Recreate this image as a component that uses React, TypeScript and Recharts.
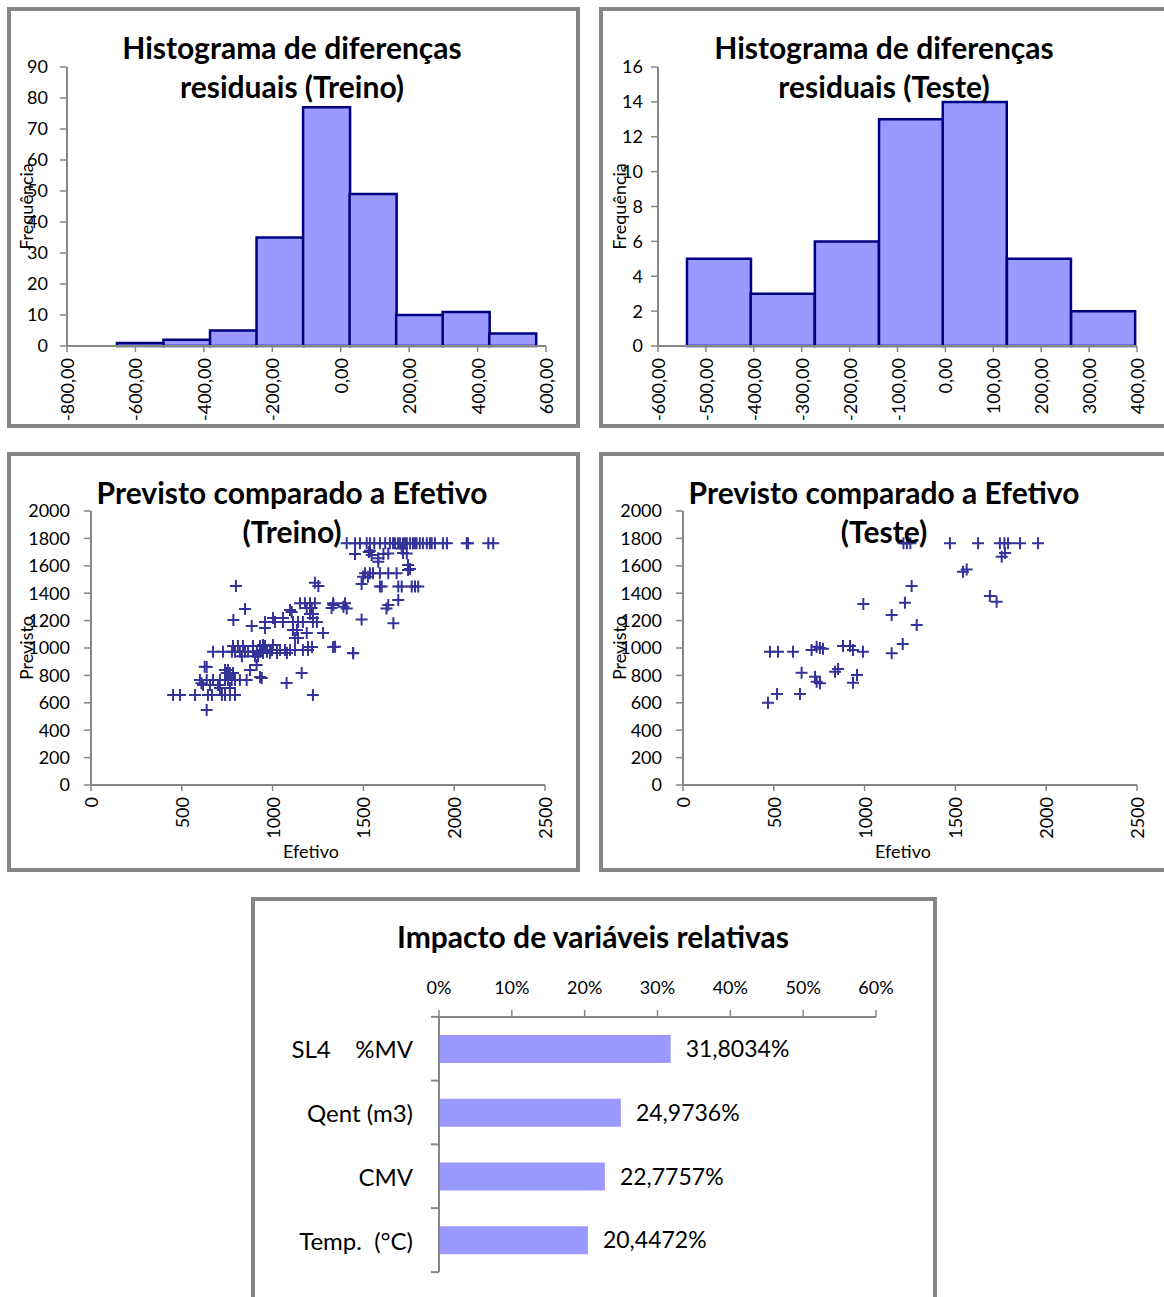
import React from "react";
import { Bar, BarChart, LabelList, Scatter, ScatterChart, XAxis, YAxis } from "recharts";

const FONTE = "Lato, 'Open Sans', sans-serif";
const EIXO = "#868686";
const TINTA = "#000000";
const LILAS = "#9999FF";
const CONTORNO = "#000080";
const MARCA = "#333399";

// Histograma treino: centro de cada classe e frequência
const treinoCentros = [-586, -450, -314, -178, -42, 94, 230, 366, 502];
const treinoFreq = [1, 2, 5, 35, 77, 49, 10, 11, 4];
const treinoTicksX = [-800, -600, -400, -200, 0, 200, 400, 600];
const treinoTicksY = [0, 10, 20, 30, 40, 50, 60, 70, 80, 90];

// Histograma teste
const testeCentros = [-473, -340, -206, -72, 61, 195, 329];
const testeFreq = [5, 3, 6, 13, 14, 5, 2];
const testeTicksX = [-600, -500, -400, -300, -200, -100, 0, 100, 200, 300, 400];
const testeTicksY = [0, 2, 4, 6, 8, 10, 12, 14, 16];

// Previsto x Efetivo: [efetivo, previsto]
const treinoPontos: [number, number][] = [
  [1408, 1765], [1454, 1765], [1481, 1765], [1518, 1765], [1536, 1765], [1560, 1765],
  [1591, 1765], [1620, 1765], [1646, 1765], [1663, 1765], [1674, 1765], [1691, 1765],
  [1702, 1765], [1718, 1765], [1729, 1765], [1739, 1765], [1757, 1765], [1773, 1765],
  [1784, 1765], [1793, 1765], [1811, 1765], [1828, 1765], [1849, 1765], [1866, 1765],
  [1876, 1765], [1894, 1765], [1938, 1765], [1960, 1765], [2069, 1765], [2076, 1765],
  [2188, 1765], [2215, 1765],
  [1454, 1686], [1536, 1710], [1546, 1679], [1610, 1686], [1637, 1690], [1711, 1727],
  [1739, 1690], [1718, 1693], [1530, 1700], [1582, 1655], [1582, 1630], [1757, 1577],
  [1746, 1606],
  [1509, 1545], [1536, 1545], [1553, 1545], [1591, 1545], [1637, 1545], [1683, 1545],
  [1746, 1569], [1498, 1520], [1525, 1520], [1490, 1467],
  [1591, 1448], [1601, 1448], [1692, 1448], [1711, 1448], [1766, 1448], [1784, 1448],
  [1802, 1448],
  [1692, 1350], [1637, 1314], [1627, 1289], [1665, 1180], [1490, 1208], [1335, 1314],
  [1390, 1302], [1408, 1289], [1344, 1009], [1444, 961],
  [1233, 1477], [1252, 1453], [798, 1453],
  [1151, 1326], [1178, 1326], [1206, 1326], [1233, 1326], [1333, 1326], [1399, 1326],
  [1188, 1292], [1215, 1292], [1325, 1292], [848, 1285], [1096, 1277],
  [1105, 1263], [1206, 1248], [1222, 1248],
  [958, 1190], [1013, 1190], [1057, 1190], [1112, 1190], [1140, 1190], [1167, 1190],
  [1222, 1190], [1244, 1190], [1002, 1219], [1057, 1219], [1222, 1219], [784, 1204],
  [885, 1161], [958, 1146],
  [1112, 1131], [1134, 1131], [1188, 1109], [1278, 1109], [1123, 1073], [1140, 1073],
  [1195, 1007], [1217, 1007], [1333, 1007], [947, 1022], [1002, 1022], [782, 1015],
  [809, 1015], [837, 1015], [892, 1015], [931, 1015], [958, 1015],
  [941, 985], [969, 985], [997, 985], [1024, 985], [1041, 985], [1068, 985],
  [1096, 985], [1123, 985], [1167, 985], [1195, 985],
  [947, 963], [986, 963], [1024, 963], [1079, 963], [1443, 963],
  [672, 973], [727, 973], [776, 973], [793, 973], [820, 973], [848, 973],
  [865, 973], [892, 973], [914, 973], [931, 973], [969, 973],
  [831, 940], [903, 940], [920, 940],
  [912, 876], [876, 839], [931, 788], [637, 861], [626, 864],
  [600, 766], [637, 766], [672, 766], [710, 766], [738, 766], [754, 766],
  [775, 766], [793, 766], [820, 766], [857, 766],
  [747, 817], [765, 817], [782, 817], [738, 839], [754, 839], [1160, 817],
  [1077, 745], [940, 781],
  [617, 730], [655, 730], [699, 730], [608, 742], [710, 708], [765, 708],
  [452, 657], [490, 657], [573, 657], [644, 657], [666, 657], [721, 657],
  [738, 657], [765, 657], [793, 657], [1222, 657],
  [637, 547],
];

const testePontos: [number, number][] = [
  [479, 973], [523, 973], [606, 973], [468, 601], [518, 664], [644, 664],
  [653, 820], [708, 985], [736, 1010], [754, 1000], [771, 995], [727, 790],
  [736, 754], [754, 742], [837, 827], [854, 847], [881, 1015], [920, 1015],
  [936, 985], [991, 973], [936, 747], [958, 803], [1149, 961], [1210, 1029],
  [1149, 1241], [1222, 1331], [1287, 1168], [1259, 1453], [993, 1321],
  [1214, 1764], [1233, 1764], [1252, 1764], [1470, 1764], [1625, 1764],
  [1745, 1764], [1770, 1764], [1790, 1764], [1856, 1764], [1955, 1764],
  [1755, 1666], [1773, 1693], [1542, 1557], [1562, 1573], [1690, 1380], [1727, 1338],
];
const dispersaoTicksX = [0, 500, 1000, 1500, 2000, 2500];
const dispersaoTicksY = [0, 200, 400, 600, 800, 1000, 1200, 1400, 1600, 1800, 2000];

// Impacto de variáveis relativas
const variaveis = ["SL4    %MV", "Qent (m3)", "CMV", "Temp.  (°C)"];
const impactos = [0.318034, 0.249736, 0.227757, 0.204472];
const impactoTicks = [0, 0.1, 0.2, 0.3, 0.4, 0.5, 0.6];

const decimal = (v: number) => v.toFixed(2).replace(".", ",");

function TickVertical(props: any) {
  const { x, y, payload, formato } = props;
  return (
    <text
      x={x}
      y={y}
      transform={`rotate(-90 ${x} ${y})`}
      textAnchor="end"
      dominantBaseline="central"
      fill={TINTA}
      fontSize={18}
    >
      {formato(payload.value)}
    </text>
  );
}

function TickCategoria(props: any) {
  const { x, y, payload } = props;
  const ultimo = payload.value === variaveis[variaveis.length - 1];
  return (
    <g>
      <text
        x={x}
        y={y}
        textAnchor="end"
        dominantBaseline="central"
        fill={TINTA}
        fontSize={24}
        xmlSpace="preserve"
        style={{ whiteSpace: "pre" }}
      >
        {payload.value}
      </text>
      <line x1={x + 18} x2={x + 26} y1={y - 32} y2={y - 32} stroke={EIXO} strokeWidth={2} />
      {ultimo && <line x1={x + 18} x2={x + 26} y1={y + 32} y2={y + 32} stroke={EIXO} strokeWidth={2} />}
    </g>
  );
}

function Cruz(props: any) {
  const { cx, cy } = props;
  return (
    <path
      d={`M${cx - 6},${cy}H${cx + 6}M${cx},${cy - 6}V${cy + 6}`}
      stroke={MARCA}
      strokeWidth={2}
      fill="none"
    />
  );
}

function Painel({ left, top, width, height }: { left: number; top: number; width: number; height: number }) {
  return (
    <div
      style={{
        position: "absolute",
        left,
        top,
        width,
        height,
        boxSizing: "border-box",
        border: `4px solid ${EIXO}`,
        background: "#fff",
      }}
    />
  );
}

function Titulo({ cx, top, linhas }: { cx: number; top: number; linhas: string[] }) {
  return (
    <div
      style={{
        position: "absolute",
        left: cx - 300,
        top,
        width: 600,
        textAlign: "center",
        fontWeight: 700,
        fontSize: 30,
        lineHeight: "39px",
        color: TINTA,
        pointerEvents: "none",
      }}
    >
      {linhas.map((l) => (
        <div key={l}>{l}</div>
      ))}
    </div>
  );
}

const eixo = { stroke: EIXO, strokeWidth: 2 };
const marca = { stroke: EIXO, strokeWidth: 1.5 };

function Histograma(props: {
  left: number;
  centros: number[];
  freq: number[];
  ticksX: number[];
  ticksY: number[];
  margemEsq: number;
  larguraY: number;
  tickMargemY: number;
  margemDir: number;
}) {
  const dados = props.centros.map((c, i) => ({ centro: c, freq: props.freq[i] }));
  const n = props.ticksX.length;
  return (
    <div style={{ position: "absolute", left: props.left, top: 12 }}>
      <BarChart
        width={562}
        height={412}
        data={dados}
        margin={{ top: 55, right: props.margemDir, bottom: 8, left: props.margemEsq }}
        barCategoryGap={0}
        barGap={0}
      >
        <XAxis
          type="number"
          dataKey="centro"
          domain={[props.ticksX[0], props.ticksX[n - 1]]}
          ticks={props.ticksX}
          interval={0}
          allowDataOverflow
          height={70}
          tickSize={6}
          tickMargin={6}
          axisLine={eixo}
          tickLine={marca}
          tick={(p: any) => <TickVertical {...p} formato={decimal} />}
        />
        <YAxis
          type="number"
          domain={[props.ticksY[0], props.ticksY[props.ticksY.length - 1]]}
          ticks={props.ticksY}
          interval={0}
          width={props.larguraY}
          tickSize={7}
          tickMargin={props.tickMargemY}
          axisLine={eixo}
          tickLine={marca}
          tick={{ fill: TINTA, fontSize: 18 }}
          label={{
            value: "Frequência",
            angle: -90,
            position: "insideLeft",
            offset: 5,
            style: { textAnchor: "middle", fontSize: 18, fill: TINTA },
          }}
        />
        <Bar dataKey="freq" fill={LILAS} stroke={CONTORNO} strokeWidth={2.5} isAnimationActive={false} />
      </BarChart>
    </div>
  );
}

function Dispersao(props: { left: number; pontos: [number, number][]; margemEsq: number; larguraY: number; margemDir: number }) {
  const dados = props.pontos.map(([x, y]) => ({ efetivo: x, previsto: y }));
  return (
    <div style={{ position: "absolute", left: props.left, top: 457 }}>
      <ScatterChart
        width={562}
        height={412}
        margin={{ top: 54, right: props.margemDir, bottom: 8, left: props.margemEsq }}
      >
        <XAxis
          type="number"
          dataKey="efetivo"
          domain={[0, 2500]}
          ticks={dispersaoTicksX}
          interval={0}
          height={76}
          tickSize={6}
          tickMargin={6}
          axisLine={eixo}
          tickLine={marca}
          tick={(p: any) => <TickVertical {...p} formato={(v: number) => String(v)} />}
          label={{
            value: "Efetivo",
            position: "insideBottom",
            offset: 3,
            dx: -7,
            style: { fontSize: 18, fill: TINTA },
          }}
        />
        <YAxis
          type="number"
          dataKey="previsto"
          domain={[0, 2000]}
          ticks={dispersaoTicksY}
          interval={0}
          width={props.larguraY}
          tickSize={7}
          tickMargin={14}
          axisLine={eixo}
          tickLine={marca}
          tick={{ fill: TINTA, fontSize: 18 }}
          label={{
            value: "Previsto",
            angle: -90,
            position: "insideLeft",
            offset: 5,
            style: { textAnchor: "middle", fontSize: 18, fill: TINTA },
          }}
        />
        <Scatter data={dados} shape={Cruz} isAnimationActive={false} />
      </ScatterChart>
    </div>
  );
}

function Impacto() {
  const dados = variaveis.map((nome, i) => ({ nome, valor: impactos[i] }));
  return (
    <div style={{ position: "absolute", left: 255, top: 901 }}>
      <BarChart
        width={677}
        height={396}
        data={dados}
        layout="vertical"
        margin={{ top: 76, right: 56, bottom: 25, left: 10 }}
      >
        <XAxis
          type="number"
          orientation="top"
          domain={[0, 0.6]}
          ticks={impactoTicks}
          interval={0}
          height={40}
          tickSize={7}
          tickMargin={16}
          axisLine={eixo}
          tickLine={marca}
          tick={{ fill: TINTA, fontSize: 18 }}
          tickFormatter={(v: number) => `${Math.round(v * 100)}%`}
        />
        <YAxis
          type="category"
          dataKey="nome"
          width={174}
          tickLine={false}
          tickSize={8}
          tickMargin={18}
          axisLine={eixo}
          tick={(p: any) => <TickCategoria {...p} />}
        />
        <Bar dataKey="valor" fill={LILAS} barSize={28} isAnimationActive={false}>
          <LabelList
            dataKey="valor"
            position="right"
            offset={15}
            fill={TINTA}
            fontSize={23}
            formatter={(v: any) => `${(Number(v) * 100).toFixed(4).replace(".", ",")}%`}
          />
        </Bar>
      </BarChart>
    </div>
  );
}

export default function App() {
  return (
    <div
      style={{
        position: "absolute",
        left: 0,
        top: 0,
        width: 1164,
        height: 1297,
        overflow: "hidden",
        background: "#fff",
        fontFamily: FONTE,
      }}
    >
      <Painel left={7} top={7} width={573} height={421} />
      <Painel left={599} top={7} width={580} height={421} />
      <Painel left={7} top={452} width={573} height={420} />
      <Painel left={599} top={452} width={580} height={420} />
      <Painel left={251} top={897} width={686} height={420} />

      <Histograma
        left={12}
        centros={treinoCentros}
        freq={treinoFreq}
        ticksX={treinoTicksX}
        ticksY={treinoTicksY}
        margemEsq={10}
        larguraY={45}
        tickMargemY={12}
        margemDir={28}
      />
      <Histograma
        left={602}
        centros={testeCentros}
        freq={testeFreq}
        ticksX={testeTicksX}
        ticksY={testeTicksY}
        margemEsq={13}
        larguraY={43}
        tickMargemY={8}
        margemDir={27}
      />
      <Dispersao left={12} pontos={treinoPontos} margemEsq={10} larguraY={69} margemDir={29} />
      <Dispersao left={602} pontos={testePontos} margemEsq={13} larguraY={68} margemDir={27} />
      <Impacto />

      <Titulo cx={292} top={28} linhas={["Histograma de diferenças", "residuais (Treino)"]} />
      <Titulo cx={884} top={28} linhas={["Histograma de diferenças", "residuais (Teste)"]} />
      <Titulo cx={292} top={473} linhas={["Previsto comparado a Efetivo", "(Treino)"]} />
      <Titulo cx={884} top={473} linhas={["Previsto comparado a Efetivo", "(Teste)"]} />
      <Titulo cx={593} top={917} linhas={["Impacto de variáveis relativas"]} />
    </div>
  );
}
